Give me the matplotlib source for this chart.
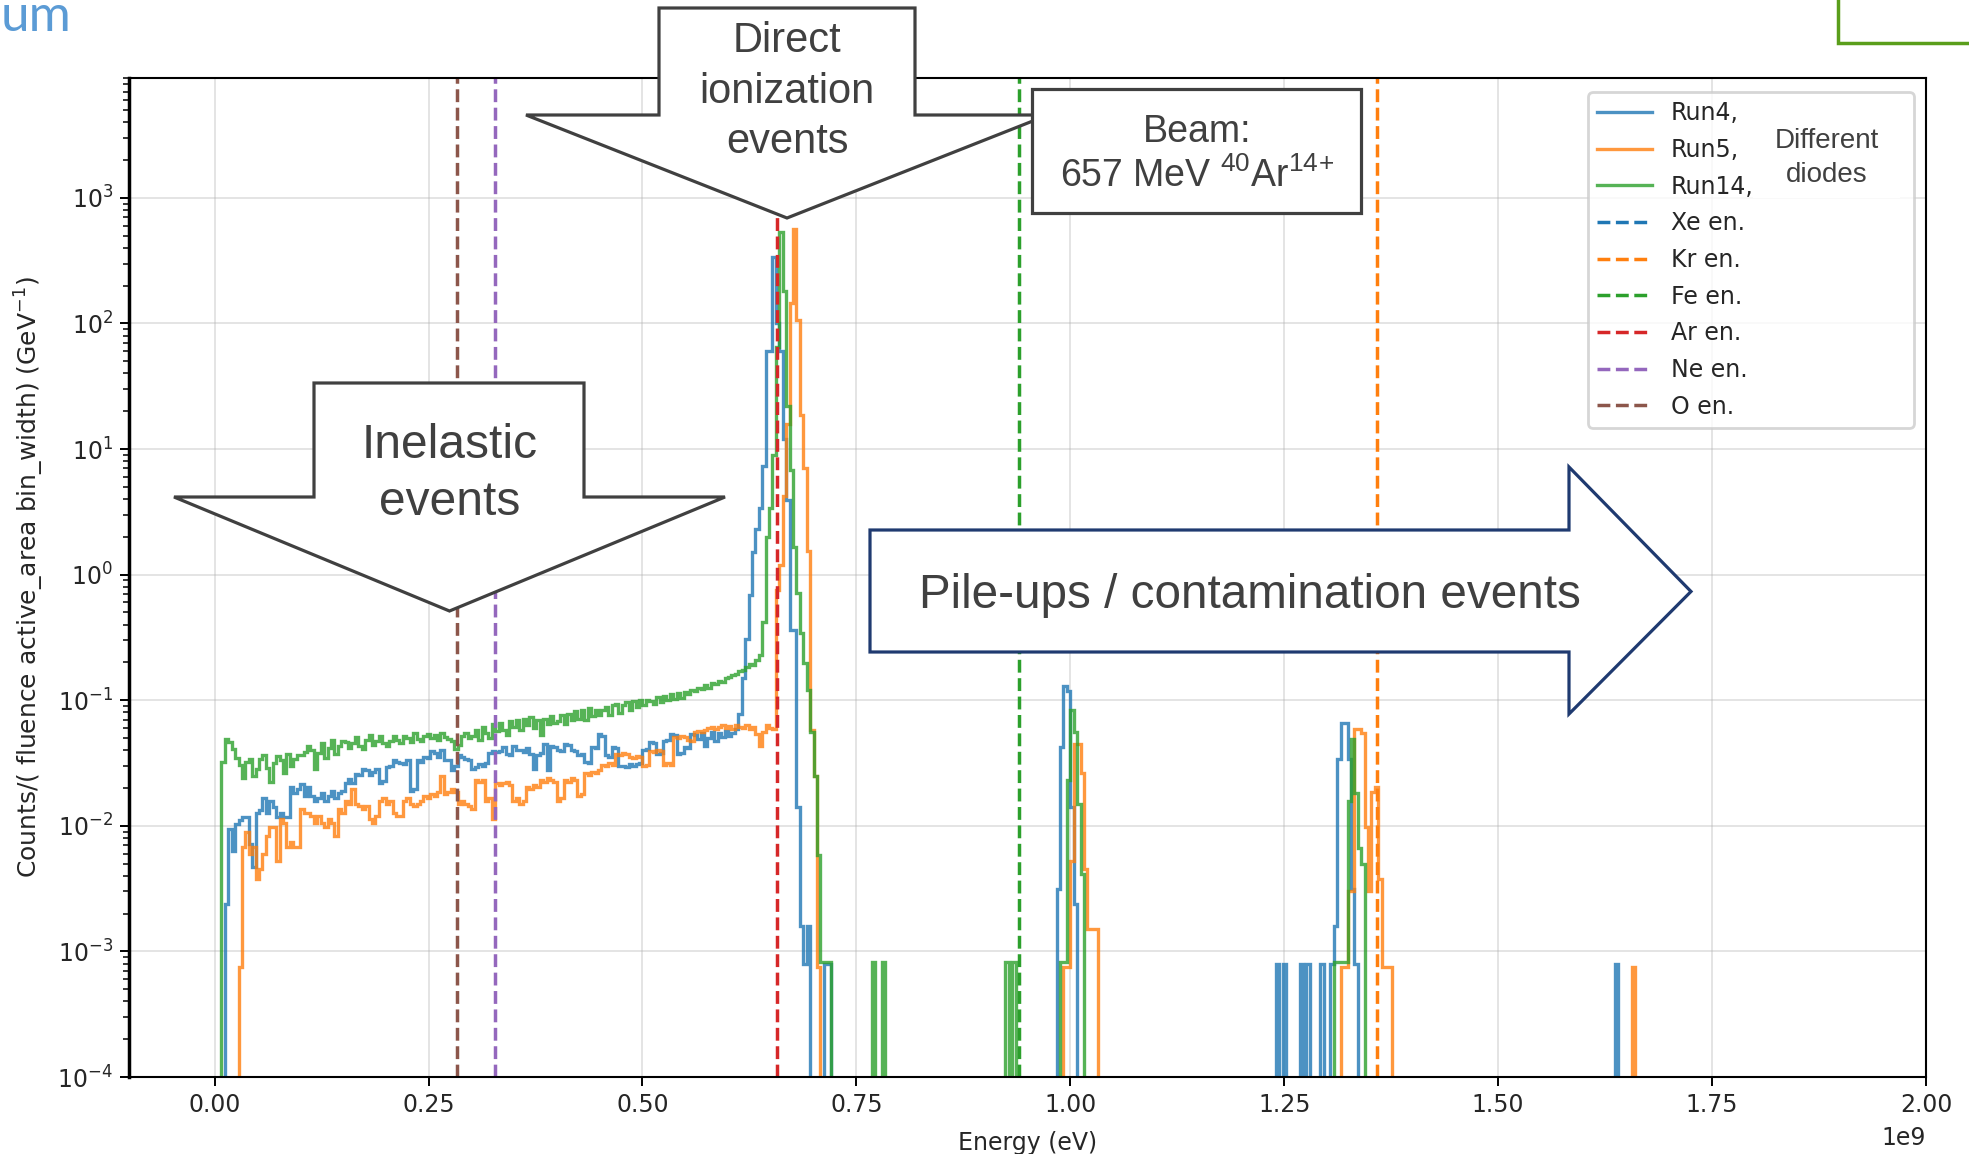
import numpy as np
import matplotlib
matplotlib.use("Agg")
import matplotlib.pyplot as plt
from matplotlib.lines import Line2D
from matplotlib.patches import Polygon, Rectangle

# ============================ data ============================
BIN_WIDTH = 4e6      # eV per histogram bin
E_MAX = 2.0e9        # upper edge of histogram range (eV)

run_labels = ["Run4,", "Run5,", "Run14,"]
run_colors = ["#1f77b4", "#ff7f0e", "#2ca02c"]

# value of one count (Counts/(fluence*area*bin_width), GeV^-1)
run4_unit = 7.9e-4
run5_unit = 7.5e-4
run14_unit = 8.3e-4

# ---- Run4 (blue) : counts per bin ----
run4_cont_start = 0.012e9
run4_cont = [3, 12, 8, 13, 14, 15, 15, 9, 6, 16,
             17, 21, 16, 20, 18, 15, 16, 15, 15, 26,
             23, 25, 27, 22, 26, 22, 20, 21, 23, 20,
             22, 24, 21, 23, 24, 28, 30, 28, 33, 32,
             36, 35, 32, 34, 36, 28, 29, 37, 38, 42,
             41, 40, 39, 42, 24, 25, 42, 41, 45, 44,
             50, 48, 45, 51, 42, 42, 35, 38, 46, 45,
             43, 42, 36, 37, 39, 38, 40, 48, 50, 49,
             50, 54, 47, 46, 55, 51, 51, 49, 53, 47,
             36, 46, 48, 57, 35, 55, 54, 51, 50, 57,
             56, 51, 50, 46, 47, 41, 40, 54, 53, 68,
             66, 46, 45, 54, 53, 38, 38, 37, 39, 38,
             39, 40, 51, 52, 59, 58, 47, 48, 60, 61,
             68, 67, 47, 48, 54, 53, 68, 67, 62, 70,
             55, 63, 71, 60, 70, 64, 72, 66, 69, 75]
run4_peak_start = 0.612e9
run4_peak = [99, 190, 392, 873, 1900, 2911, 4300, 9240, 75950, 75950,
             430400, 126600, 75950, 15190, 4937, 456, 456, 18, 2, 1, 2]
run4_pile1_start = 0.984e9
run4_pile1 = [4, 54, 165, 150, 18, 3]
run4_pile2_start = 1.304e9
run4_pile2 = [1, 2, 43, 84, 84, 43, 4, 1]
run4_single_E = [0.714e9, 0.718e9, 1.242e9, 1.250e9,
                 1.270e9, 1.278e9, 1.294e9, 1.638e9]

# ---- Run5 (orange) ----
run5_cont_start = 0.028e9
run5_cont = [1, 9, 12, 8, 9, 5, 6, 8, 11, 13,
             13, 7, 15, 14, 9, 10, 9, 9, 18, 17,
             17, 16, 14, 16, 14, 13, 15, 14, 11, 18,
             17, 21, 20, 26, 20, 19, 18, 19, 15, 14,
             16, 21, 22, 20, 21, 17, 16, 16, 21, 22,
             20, 19, 20, 21, 23, 22, 24, 23, 25, 33,
             24, 25, 26, 25, 20, 21, 20, 19, 18, 31,
             30, 31, 21, 22, 15, 29, 28, 29, 30, 28,
             21, 22, 20, 21, 27, 26, 28, 27, 31, 30,
             32, 31, 30, 21, 22, 31, 30, 32, 31, 23,
             24, 35, 34, 36, 35, 37, 41, 40, 42, 41,
             50, 49, 51, 50, 47, 46, 48, 47, 40, 41,
             53, 52, 54, 53, 41, 42, 41, 68, 67, 69,
             68, 64, 63, 74, 76, 75, 77, 80, 82, 79,
             81, 84, 80, 83, 78, 85, 82, 80, 84, 79,
             81, 72, 58, 74, 84, 80, 78]
run5_peak_start = 0.656e9
run5_peak = [1013, 1600, 5600, 21070, 193300, 760000, 141300, 25070,
             9333, 2067, 77, 33]
run5_pile1_start = 0.992e9
run5_pile1 = [1, 1, 7, 60, 60, 35, 6, 2, 2, 2]
run5_pile2_start = 1.316e9
run5_pile2 = [1, 1, 4, 4, 79, 79, 73, 13, 4, 25, 27, 5, 1, 1, 1]
run5_single_E = [0.706e9, 1.658e9]

# ---- Run14 (green) ----
run14_cont_start = 0.008e9
run14_cont = [39, 59, 56, 49, 42, 37, 29, 39, 41, 30, 34,
              41, 44, 35, 27, 38, 43, 40, 32, 45, 36, 41, 44,
              44, 47, 52, 48, 34, 46, 55, 42, 50, 58, 45, 52, 57,
              56, 50, 55, 61, 52, 49, 58, 64, 53, 57, 62, 55,
              52, 57, 62, 58, 55, 63, 60, 56, 66, 59, 57, 63, 65,
              60, 64, 58, 66, 61, 59, 57, 49, 53, 62, 66, 60,
              62, 70, 58, 74, 66, 60, 78, 69, 80, 70, 64, 82, 74,
              84, 70, 86, 76, 88, 72, 84, 64, 86, 78, 90, 80,
              82, 92, 78, 94, 84, 98, 86, 100, 84, 104, 90, 100, 92,
              100, 106, 92, 110, 112, 96, 110, 116, 100, 118, 106, 120,
              110, 122, 118, 112, 128, 116, 130, 120, 136, 124, 138, 126, 140,
              134, 146, 142, 150, 148, 160, 150, 166, 162, 170, 168, 180,
              183, 190, 196, 205, 210, 222, 235, 228, 250, 275]
run14_peak_start = 0.640e9
run14_peak = [506, 2410, 4100, 10840, 78300, 638500, 216900, 26500, 8190,
              2000, 855, 410, 240, 145, 67, 30, 7]
run14_pile1_start = 0.988e9
run14_pile1 = [1, 1, 28, 100, 67, 18, 5]
run14_pile2_start = 1.308e9
run14_pile2 = [1, 1, 1, 1, 19, 59, 22, 8, 6]
run14_single_E = [0.710e9, 0.714e9, 0.718e9, 0.770e9, 0.782e9, 0.926e9, 0.934e9]

# ---- reference ion energies ----
ion_labels = ["Xe en.", "Kr en.", "Fe en.", "Ar en.", "Ne en.", "O en."]
ion_energy = [2.10e9, 1.3585e9, 0.9397e9, 0.6577e9, 0.3275e9, 0.2830e9]
ion_colors = ["#1f77b4", "#ff7f0e", "#2ca02c", "#d62728", "#9467bd", "#8c564b"]

x_ticks = [0.0, 0.25e9, 0.50e9, 0.75e9, 1.00e9, 1.25e9, 1.50e9, 1.75e9, 2.00e9]

# ============================ build ============================
edges = np.arange(0.0, E_MAX + BIN_WIDTH / 2, BIN_WIDTH)
n_bins = len(edges) - 1


def build(segments, singles, unit):
    counts = np.zeros(n_bins)
    for start, vals in segments:
        i0 = int(round(start / BIN_WIDTH))
        counts[i0:i0 + len(vals)] = vals
    for e in singles:
        counts[int(e // BIN_WIDTH)] += 1
    return counts * unit


run4 = build([(run4_cont_start, run4_cont), (run4_peak_start, run4_peak),
              (run4_pile1_start, run4_pile1), (run4_pile2_start, run4_pile2)],
             run4_single_E, run4_unit)
run5 = build([(run5_cont_start, run5_cont), (run5_peak_start, run5_peak),
              (run5_pile1_start, run5_pile1), (run5_pile2_start, run5_pile2)],
             run5_single_E, run5_unit)
run14 = build([(run14_cont_start, run14_cont), (run14_peak_start, run14_peak),
               (run14_pile1_start, run14_pile1), (run14_pile2_start, run14_pile2)],
              run14_single_E, run14_unit)
runs = [run4, run5, run14]

# ============================ figure ============================
W, H = 1969, 1154
plt.rcParams["font.family"] = ["DejaVu Sans"]
plt.rcParams["mathtext.rm"] = "Liberation Sans"
plt.rcParams["mathtext.it"] = "Liberation Sans:italic"
plt.rcParams["mathtext.bf"] = "Liberation Sans:bold"

fig = plt.figure(figsize=(W / 100, H / 100), dpi=100)
ax = fig.add_axes([129 / W, 1 - 1077 / H, (1926 - 129) / W, (1077 - 78) / H])
ax.set_yscale("log")

HIST_LW = 2.4
for vals, col in zip(runs, run_colors):
    ax.stairs(vals, edges, color=col, alpha=0.8, lw=HIST_LW, fill=False, baseline=0)

for e, col in zip(ion_energy, ion_colors):
    ax.axvline(e, color=col, ls="--", lw=2.5)

ax.set_xlim(-0.1e9, 2.0e9)
ax.set_ylim(1e-4, 9e3)
ax.set_xticks(x_ticks)
# tick labels in units of 1e9 eV; the multiplier is written separately below
ax.set_xticklabels([f"{t / 1e9:.2f}" for t in x_ticks])

ax.grid(True, which="major", color="#b0b0b0", alpha=0.35, lw=1.4)
ax.set_axisbelow(True)

txtc = "#262626"
ax.tick_params(axis="both", which="major", labelsize=17, length=6.5, width=1.4,
               pad=5, labelcolor=txtc)
ax.tick_params(axis="y", which="minor", length=4, width=1.1)
for s in ["top", "right", "bottom"]:
    ax.spines[s].set_linewidth(1.5)
ax.spines["left"].set_linewidth(2.5)

ax.set_xlabel("Energy (eV)", fontsize=17, color=txtc, labelpad=10)
ax.set_ylabel("Counts/( fluence active_area bin_width) (GeV$^{-1}$)",
              fontsize=18, color=txtc)
ax.yaxis.set_label_coords((46 - 129) / (1926 - 129), 0.5)
ax.annotate("1e9", xy=(1.0, 0.0), xycoords="axes fraction",
            xytext=(0, -(1138 - 1077) * 0.72), textcoords="offset points",
            ha="right", va="center", fontsize=17, color=txtc)

handles = [Line2D([], [], color=c, lw=HIST_LW, alpha=0.8) for c in run_colors]
handles += [Line2D([], [], color=c, ls="--", lw=2.5) for c in ion_colors]
labels = run_labels + ion_labels
leg_x0 = (1588 - 129) / (1926 - 129)
leg_w = (1914 - 1588) / (1926 - 129)
leg_top = (1077 - 92) / (1077 - 78)
leg = ax.legend(handles, labels, loc="upper left",
                bbox_to_anchor=(leg_x0, 0.0, leg_w, leg_top), mode="expand",
                borderaxespad=0.0, fontsize=17, handlelength=2.3,
                handletextpad=0.8, labelspacing=0.535, borderpad=0.4,
                framealpha=0.8, edgecolor="#cccccc", fancybox=True)
leg.get_frame().set_linewidth(2.0)
for t in leg.get_texts():
    t.set_color(txtc)

# ============================ slide overlays ============================
ov = fig.add_axes([0, 0, 1, 1], zorder=10)
ov.set_xlim(0, W)
ov.set_ylim(H, 0)
ov.axis("off")

gray = "#404040"
navy = "#1f3a70"
sans = "Liberation Sans"


def down_arrow(x0, x1, ytop, yshoulder, xl, xr, xtip, ytip, ec, lw):
    pts = [(x0, ytop), (x1, ytop), (x1, yshoulder), (xr, yshoulder),
           (xtip, ytip), (xl, yshoulder), (x0, yshoulder)]
    ov.add_patch(Polygon(pts, closed=True, facecolor="white", edgecolor=ec,
                         lw=lw, joinstyle="miter"))


# "Inelastic events"
down_arrow(314, 584, 383, 497, 174, 725, 449.5, 611, gray, 2.3)
ov.text(449.5, 458, "Inelastic", ha="center", va="baseline", fontsize=34.5,
        color=gray, family=sans)
ov.text(449.5, 515, "events", ha="center", va="baseline", fontsize=34.5,
        color=gray, family=sans)

# "Direct ionization events"
down_arrow(659, 915, 8, 115, 526, 1048, 787, 218, gray, 2.3)
for txt, yb in [("Direct", 52), ("ionization", 103), ("events", 153)]:
    ov.text(787, yb, txt, ha="center", va="baseline", fontsize=30,
            color=gray, family=sans)

# Beam box
ov.add_patch(Rectangle((1032, 89), 1361 - 1032, 213 - 89, facecolor="white",
                       edgecolor=gray, lw=2.3))
ov.text(1197, 142, "Beam:", ha="center", va="baseline", fontsize=27,
        color=gray, family=sans)
ov.text(1197, 187, r"657 MeV $^{40}$Ar$^{14}$$^{+}$", ha="center",
        va="baseline", fontsize=27, color=gray, family=sans,
        math_fontfamily="custom")

# Pile-ups arrow
pile_pts = [(870, 530), (1569, 530), (1569, 467), (1691, 591.5),
            (1569, 714), (1569, 652), (870, 652)]
ov.add_patch(Polygon(pile_pts, closed=True, facecolor="white", edgecolor=navy,
                     lw=2.3, joinstyle="miter"))
ov.text(1250, 608, "Pile-ups / contamination events", ha="center",
        va="baseline", fontsize=34.3, color=gray, family=sans)

# Legend cover with note
ov.add_patch(Rectangle((1753, 95), 1900 - 1753, 198 - 95, facecolor="white",
                       edgecolor="none"))
ov.text(1827, 148, "Different", ha="center", va="baseline", fontsize=20,
        color=gray, family=sans)
ov.text(1827, 182, "diodes", ha="center", va="baseline", fontsize=20,
        color=gray, family=sans)

# slide fragments at the edges
ov.add_patch(Rectangle((1838, -20), 200, 63, facecolor="white",
                       edgecolor="#5a9e1b", lw=2.5))
ov.text(1, 31, "um", ha="left", va="baseline", fontsize=37,
        color="#5b9bd5", family="Lato")

fig.savefig("out.png", dpi=100)
